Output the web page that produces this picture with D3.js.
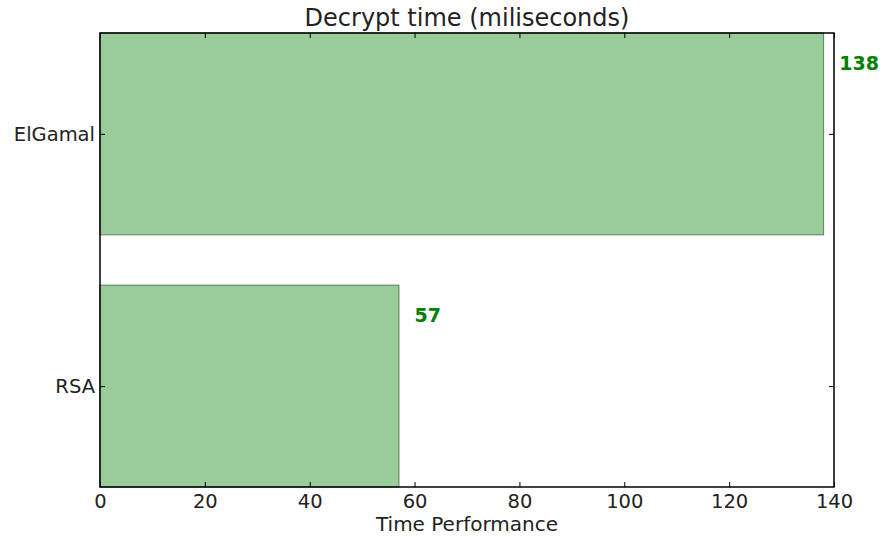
<!DOCTYPE html>
<html>
<head>
<meta charset="utf-8">
<script src="https://cdn.jsdelivr.net/npm/d3@7"></script>
<style>
  body { margin: 0; background: #fff; }
  text { font-family: "DejaVu Sans", sans-serif; fill: #222; }
</style>
</head>
<body>
<svg id="chart" width="882" height="537"></svg>
<script>
// Decryption timing per algorithm (ms)
const algorithms = ["RSA", "ElGamal"];
const decryptTimes = [57, 138];
const xTicks = [0, 20, 40, 60, 80, 100, 120, 140];

const W = 882, H = 537;
const margin = { top: 33, right: 48, bottom: 50, left: 100 };
const innerW = W - margin.left - margin.right;
const innerH = H - margin.top - margin.bottom;

const svg = d3.select("#chart");
const g = svg.append("g").attr("transform", `translate(${margin.left},${margin.top})`);

const x = d3.scaleLinear().domain([0, 140]).range([0, innerW]);
// Category index on a linear scale, bars 0.8 units tall
const y = d3.scaleLinear().domain([-0.4, algorithms.length - 0.6]).range([innerH, 0]);
const barH = 0.8;

const bars = algorithms.map((a, i) => ({ name: a, value: decryptTimes[i], i }));

g.selectAll("rect.bar").data(bars).enter().append("rect")
  .attr("class", "bar")
  .attr("x", x(0))
  .attr("y", d => y(d.i + barH / 2))
  .attr("width", d => x(d.value) - x(0))
  .attr("height", d => y(d.i - barH / 2) - y(d.i + barH / 2))
  .attr("fill", "#99cc99")
  .attr("stroke", "#6a8a6a")
  .attr("stroke-width", 1.2);

// Value labels
g.selectAll("text.val").data(bars).enter().append("text")
  .attr("class", "val")
  .attr("x", d => x(d.value + 3))
  .attr("y", d => y(d.i + 0.28))
  .attr("dy", "0.35em")
  .style("fill", "#008000")
  .style("font-weight", "bold")
  .style("font-size", "19px")
  .text(d => d.value);

// Axes: ticks point inward on all four sides
const tickLen = 5;
const xAxis = d3.axisBottom(x).tickValues(xTicks).tickSizeInner(-tickLen).tickSizeOuter(0).tickPadding(7);
const xAxisTop = d3.axisTop(x).tickValues(xTicks).tickSizeInner(-tickLen).tickSizeOuter(0).tickFormat("");
const yIdx = algorithms.map((_, i) => i);
const yAxis = d3.axisLeft(y).tickValues(yIdx).tickFormat(i => algorithms[i]).tickSizeInner(-tickLen).tickSizeOuter(0).tickPadding(5);
const yAxisRight = d3.axisRight(y).tickValues(yIdx).tickSizeInner(-tickLen).tickSizeOuter(0).tickFormat("");

function styleAxis(sel) {
  sel.select(".domain").remove();
  sel.selectAll(".tick line").attr("stroke", "#000").attr("stroke-width", 1);
  sel.selectAll(".tick text").style("font-size", "19.5px").style("fill", "#222");
}

g.append("g").attr("transform", `translate(0,${innerH})`).call(xAxis).call(styleAxis);
g.append("g").call(xAxisTop).call(styleAxis);
g.append("g").call(yAxis).call(styleAxis);
g.append("g").attr("transform", `translate(${innerW},0)`).call(yAxisRight).call(styleAxis);

// Frame
g.append("rect")
  .attr("x", 0).attr("y", 0)
  .attr("width", innerW).attr("height", innerH)
  .attr("fill", "none").attr("stroke", "#000").attr("stroke-width", 1.5);

// Title and axis label
svg.append("text")
  .attr("x", margin.left + innerW / 2).attr("y", 26)
  .attr("text-anchor", "middle")
  .style("font-size", "24px")
  .text("Decrypt time (miliseconds)");

svg.append("text")
  .attr("x", margin.left + innerW / 2).attr("y", 531)
  .attr("text-anchor", "middle")
  .style("font-size", "20px")
  .text("Time Performance");
</script>
</body>
</html>
